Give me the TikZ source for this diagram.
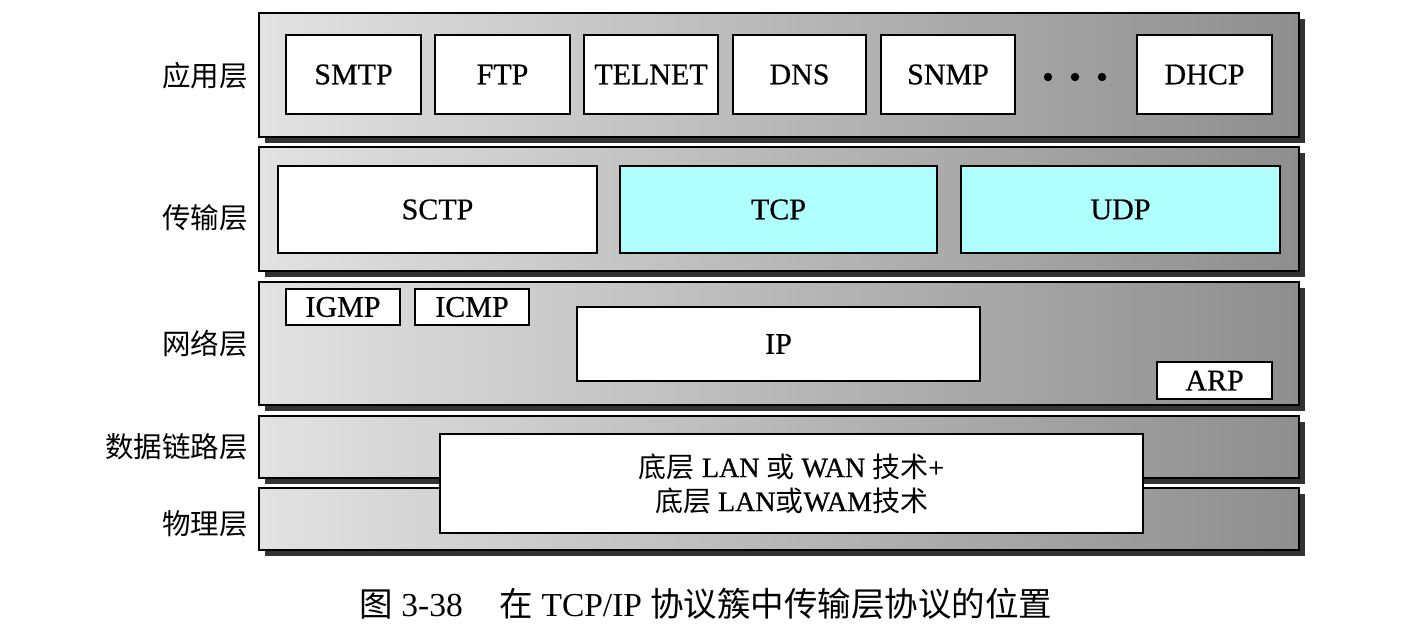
\documentclass[tikz,border=0pt]{standalone}
\usepackage{fontspec}
\setmainfont{Liberation Serif}
\newfontfamily\heavy{Liberation Serif}[FakeBold=0.6]
\newfontfamily\cjk{Noto Sans CJK SC}
\usetikzlibrary{shadows}
\definecolor{shadowc}{HTML}{333333}
\definecolor{cyanfill}{HTML}{B0FFFF}
\definecolor{bandL}{HTML}{E2E2E2}
\definecolor{bandR}{HTML}{8E8E8E}
\begin{document}
\begin{tikzpicture}[x=1pt,y=-1pt,
  band/.style={draw=black, line width=1.3pt, left color=bandL, right color=bandR,
    anchor=north west, inner sep=0pt, outer sep=0pt,
    drop shadow={shadow xshift=6pt, shadow yshift=-6pt, fill=shadowc, opacity=1}},
  pbox/.style={draw=black, line width=1.6pt, fill=white, anchor=north west,
    inner sep=0pt, outer sep=0pt, font=\heavy\fontsize{30}{32}\selectfont},
  layerlabel/.style={anchor=east, inner sep=0pt, font=\cjk\fontsize{28.5}{30}\selectfont},
  dotc/.style={fill=black, draw=none}
]
\useasboundingbox (0,0) rectangle (1416,630);
% layer bands
\node[band, minimum width=1040pt, minimum height=124pt] (app) at (259,13) {};
\node[band, minimum width=1040pt, minimum height=124pt] (trans) at (259,147) {};
\node[band, minimum width=1040pt, minimum height=123pt] (net) at (259,282) {};
\node[band, minimum width=1040pt, minimum height=62pt] (link) at (259,416) {};
\node[band, minimum width=1040pt, minimum height=62pt] (phys) at (259,488) {};
% layer labels
\node[layerlabel] (lapp) at (248,76) {应用层};
\node[layerlabel] (ltrans) at (248,218) {传输层};
\node[layerlabel] (lnet) at (248,344) {网络层};
\node[layerlabel] (llink) at (248,447) {数据链路层};
\node[layerlabel] (lphys) at (248,524) {物理层};
% application
\node[pbox, minimum width=135pt, minimum height=79pt] (smtp) at (286,35) {SMTP};
\node[pbox, minimum width=135pt, minimum height=79pt] (ftp) at (435,35) {FTP};
\node[pbox, minimum width=134pt, minimum height=79pt] (telnet) at (584,35) {TELNET};
\node[pbox, minimum width=133pt, minimum height=79pt] (dns) at (733,35) {DNS};
\node[pbox, minimum width=134pt, minimum height=79pt] (snmp) at (881,35) {SNMP};
\node[pbox, minimum width=135pt, minimum height=79pt] (dhcp) at (1137,35) {DHCP};
\fill[dotc] (1048,77) circle (4.2) (1075,77) circle (4.2) (1102,77) circle (4.2);
% transport
\node[pbox, minimum width=319pt, minimum height=87pt] (sctp) at (278,166) {SCTP};
\node[pbox, fill=cyanfill, minimum width=317pt, minimum height=87pt] (tcp) at (620,166) {TCP};
\node[pbox, fill=cyanfill, minimum width=319pt, minimum height=87pt] (udp) at (961,166) {UDP};
% network
\node[pbox, minimum width=114pt, minimum height=36pt] (igmp) at (286,289) {IGMP};
\node[pbox, minimum width=114pt, minimum height=36pt] (icmp) at (415,289) {ICMP};
\node[pbox, minimum width=403pt, minimum height=74pt] (ip) at (577,307) {IP};
\node[pbox, minimum width=115pt, minimum height=37pt] (arp) at (1157,362) {ARP};
% link + physical
\node[pbox, minimum width=703pt, minimum height=99pt, align=center,
  font=\heavy\fontsize{28}{34}\selectfont] (lan) at (440,434)
  {{\cjk 底层} LAN {\cjk 或} WAN {\cjk 技术}+\\{\cjk 底层} LAN{\cjk 或}WAM{\cjk 技术}};
% caption
\node[inner sep=0pt, font=\fontsize{33.5}{36}\selectfont] (cap) at (706,604)
  {{\cjk 图} 3-38\hspace{1.1em}{\cjk 在} TCP/IP {\cjk 协议簇中传输层协议的位置}};
\end{tikzpicture}
\end{document}
